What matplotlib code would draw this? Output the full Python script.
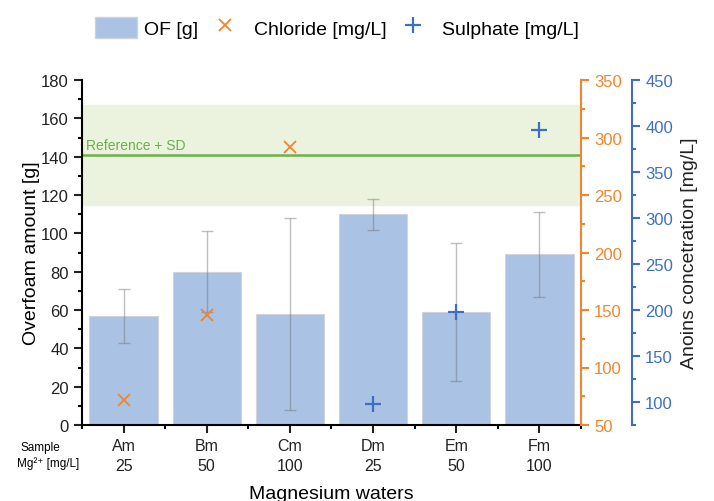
import numpy as np
import matplotlib.pyplot as plt
from matplotlib.patches import Patch
from matplotlib.lines import Line2D
from matplotlib.ticker import MultipleLocator

plt.rcParams['font.family'] = ['Liberation Sans', 'DejaVu Sans']

samples = ["Am", "Bm", "Cm", "Dm", "Em", "Fm"]
mg_conc = ["25", "50", "100", "25", "50", "100"]
overfoam = [57, 80, 58, 110, 59, 89]
overfoam_sd = [14, 21, 50, 8, 36, 22]
chloride = [72, 146, 292, np.nan, np.nan, np.nan]
sulphate = [np.nan, np.nan, np.nan, 98, 198, 396]
ref_mean = 141
ref_low, ref_high = 115, 167

bar_c = "#aac2e4"
orange = "#f0852d"
blue = "#3f6fbf"
green = "#6ab04c"

fig = plt.figure(figsize=(7.14, 5.02), dpi=100)
ax = fig.add_axes([82 / 714, 1 - 426 / 502, 499 / 714, 345 / 502])
x = np.arange(len(samples))

# reference band + line
ax.axhspan(ref_low, ref_high, color="#ebf2dd", zorder=0)
ax.axhline(ref_mean, color=green, lw=1.8, zorder=1)
ax.text(0.008, ref_mean + 1.5, "Reference + SD", transform=ax.get_yaxis_transform(),
        color=green, fontsize=10, va="bottom", ha="left")

ax.bar(x, overfoam, width=0.82, color=bar_c, edgecolor="#d0d4da", lw=0.8, zorder=2)
ax.errorbar(x, overfoam, yerr=overfoam_sd, fmt="none", ecolor="0.45", alpha=0.45,
            elinewidth=1, capsize=4, capthick=1, zorder=3)

ax.set_xlim(-0.5, 5.5)
ax.set_ylim(0, 180)
ax.yaxis.set_major_locator(MultipleLocator(20))
ax.yaxis.set_minor_locator(MultipleLocator(10))
ax.set_xticks(x)
ax.set_xticklabels([f"{s}\n{m}" for s, m in zip(samples, mg_conc)],
                   fontsize=11.5, linespacing=1.4)
ax.set_xticks(np.arange(-0.5, 6, 1), minor=True)
ax.tick_params(axis="both", which="major", direction="out", length=6, width=1.5,
               labelsize=12, colors="#222222")
ax.tick_params(axis="both", which="minor", direction="out", length=3, width=1.5)
ax.tick_params(axis="x", labelsize=11.5)
ax.spines["top"].set_visible(False)
ax.spines["right"].set_visible(False)
ax.spines["left"].set_linewidth(1.5)
ax.spines["bottom"].set_linewidth(1.5)
ax.set_ylabel("Overfoam amount [g]", fontsize=14, labelpad=1)
ax.set_xlabel("Magnesium waters", fontsize=14, labelpad=9)

fig.text(40 / 714, 1 - 448 / 502, "Sample", fontsize=8.5, ha="center", va="center")
fig.text(48 / 714, 1 - 464 / 502, "Mg²⁺ [mg/L]", fontsize=8.5, ha="center", va="center")

# chloride axis
ax2 = ax.twinx()
ax2.set_ylim(50, 350)
ax2.yaxis.set_major_locator(MultipleLocator(50))
ax2.yaxis.set_minor_locator(MultipleLocator(25))
ax2.plot(x, chloride, ls="none", marker="x", ms=9, mew=1.3, color=orange, zorder=5)
for s in ["top", "left", "bottom"]:
    ax2.spines[s].set_visible(False)
ax2.spines["right"].set_color(orange)
ax2.spines["right"].set_linewidth(1.5)
ax2.tick_params(axis="y", which="both", colors=orange, width=1.5, labelsize=12)
ax2.tick_params(axis="y", which="major", length=6)
ax2.tick_params(axis="y", which="minor", length=3)

# sulphate axis
ax3 = ax.twinx()
ax3.spines["right"].set_position(("axes", (632 - 82) / 499))
ax3.set_ylim(75, 450)
ax3.yaxis.set_major_locator(MultipleLocator(50))
ax3.yaxis.set_minor_locator(MultipleLocator(25))
ax3.plot(x, sulphate, ls="none", marker="+", ms=11, mew=1.6, color=blue, zorder=5)
for s in ["top", "left", "bottom"]:
    ax3.spines[s].set_visible(False)
ax3.spines["right"].set_color(blue)
ax3.spines["right"].set_linewidth(1.5)
ax3.tick_params(axis="y", which="both", colors=blue, width=1.5, labelsize=12)
ax3.tick_params(axis="y", which="major", length=6)
ax3.tick_params(axis="y", which="minor", length=3)
ax3.set_ylabel("Anoins concetration [mg/L]", fontsize=14, color="#222222", labelpad=6)

handles = [Patch(facecolor=bar_c, edgecolor="#d0d4da"),
           Line2D([], [], ls="none", marker="x", ms=9, mew=1.3, color=orange),
           Line2D([], [], ls="none", marker="+", ms=11, mew=1.6, color=blue)]
fig.legend(handles, ["OF [g]", "Chloride [mg/L]", "Sulphate [mg/L]"],
           loc="upper left", bbox_to_anchor=(77 / 714, 1.0), ncol=3, frameon=False,
           fontsize=14, handlelength=2.2, handleheight=1.3, columnspacing=0.3,
           handletextpad=0.35)

fig.savefig("out.png", dpi=100)
